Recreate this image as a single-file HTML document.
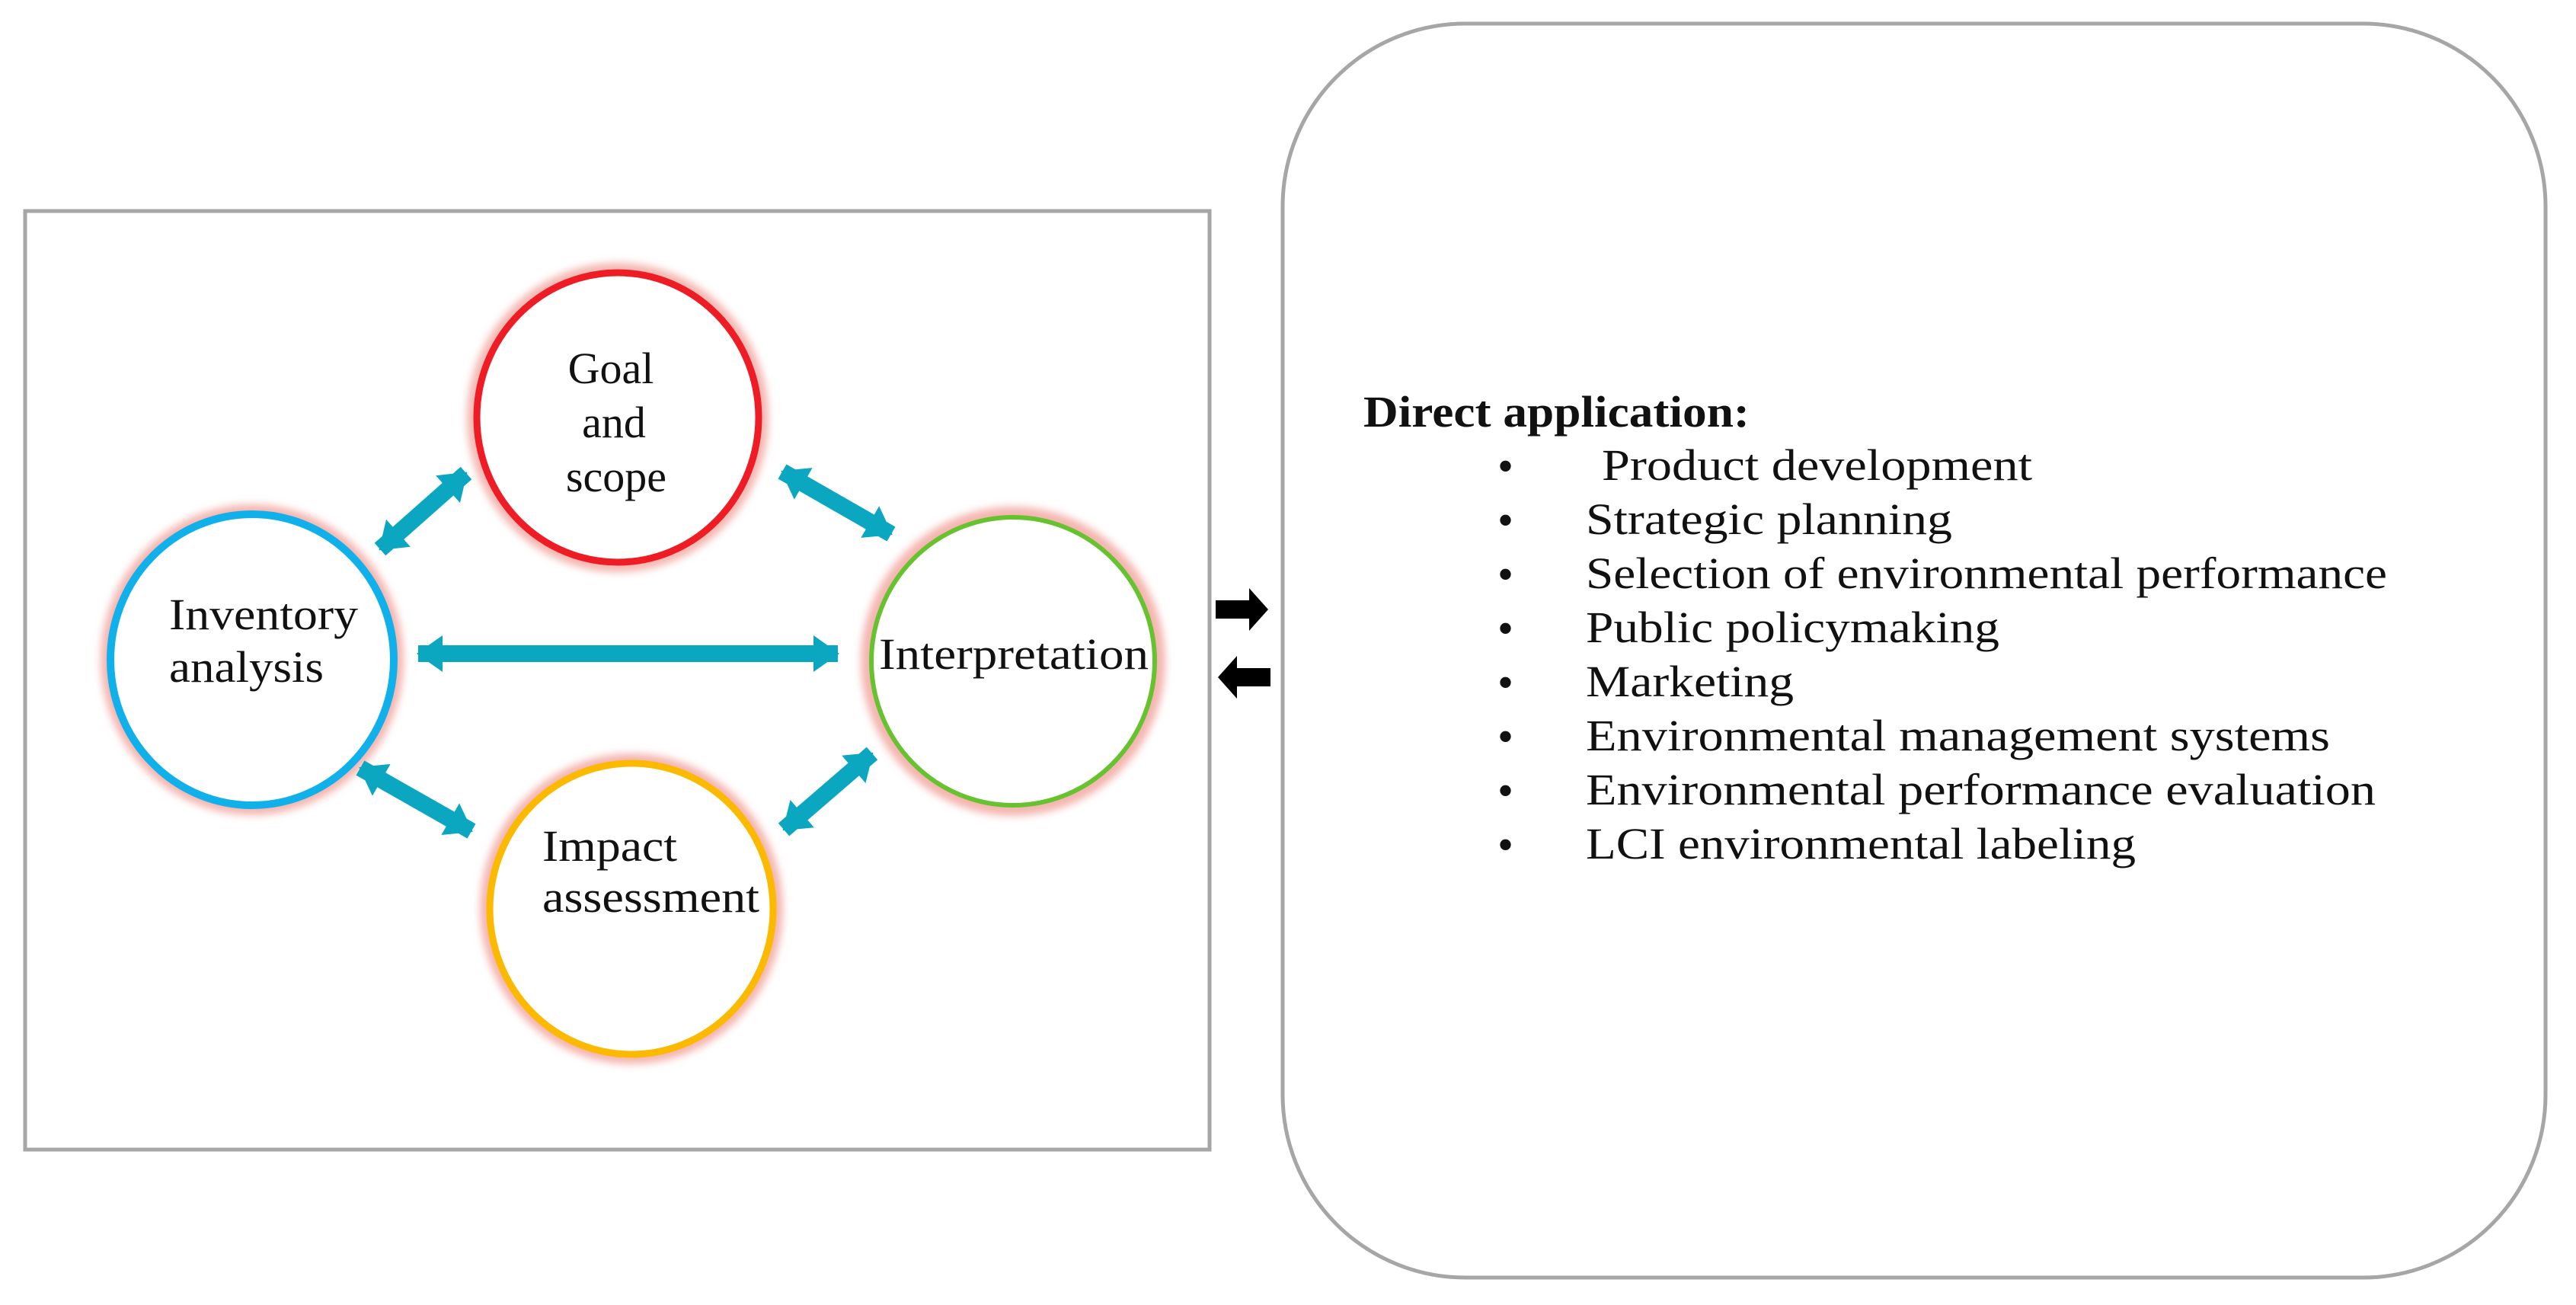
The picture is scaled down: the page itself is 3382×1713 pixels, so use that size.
<!DOCTYPE html>
<html><head><meta charset="utf-8"><style>
html,body{margin:0;padding:0;background:#fff;}
svg{display:block}
text{font-family:"Liberation Serif",serif;fill:#111}
</style></head><body>
<svg width="3382" height="1713" viewBox="0 0 3382 1713" xmlns="http://www.w3.org/2000/svg">
<defs>
<marker id="ah" markerUnits="userSpaceOnUse" markerWidth="40" markerHeight="48" refX="32" refY="24" orient="auto-start-reverse">
<path d="M0,0 L34,24 L0,48 Z" fill="#0ba7c1"/>
</marker>
<filter id="glow" x="-20%" y="-20%" width="140%" height="140%"><feGaussianBlur stdDeviation="5"/></filter>
</defs>
<rect x="33" y="277" width="1555" height="1232" fill="none" stroke="#a6a6a6" stroke-width="5"/>
<rect x="1684" y="31" width="1658" height="1646" rx="240" ry="240" fill="none" stroke="#a6a6a6" stroke-width="5"/>

<g fill="none" stroke="#f4b6b0" stroke-width="22" filter="url(#glow)">
<ellipse cx="811" cy="548" rx="187" ry="192"/>
<ellipse cx="331" cy="866" rx="188" ry="193"/>
<ellipse cx="1330" cy="868" rx="189" ry="192"/>
<ellipse cx="829" cy="1193" rx="188" ry="193"/>
</g>
<ellipse cx="811" cy="548" rx="185" ry="190" fill="#fff" stroke="#ee1c24" stroke-width="9"/>
<ellipse cx="331" cy="866" rx="186" ry="191" fill="#fff" stroke="#10b0ea" stroke-width="10"/>
<ellipse cx="1330" cy="868" rx="186" ry="189" fill="#fff" stroke="#66c22e" stroke-width="6"/>
<ellipse cx="829" cy="1193" rx="186" ry="191" fill="#fff" stroke="#fbb900" stroke-width="9"/>

<g stroke="#0ba7c1" stroke-width="22" marker-start="url(#ah)" marker-end="url(#ah)">
<line x1="549" y1="858" x2="1100" y2="858"/>
<line x1="499" y1="721" x2="612" y2="621"/>
<line x1="1027" y1="619" x2="1170" y2="701"/>
<line x1="473" y1="1008" x2="619" y2="1091"/>
<line x1="1029" y1="1089" x2="1145" y2="989"/>
</g>

<g fill="#000">
<polygon points="1596,788 1640,788 1640,772 1665,800 1640,828 1640,812 1596,812"/>
<polygon points="1668,877 1624,877 1624,861 1599,889 1624,917 1624,901 1668,901"/>
</g>

<g font-size="58">
<text x="802" y="503" text-anchor="middle">Goal</text>
<text x="806" y="574" text-anchor="middle">and</text>
<text x="809" y="645" text-anchor="middle">scope</text>
<text x="222" y="826" textLength="248" lengthAdjust="spacingAndGlyphs">Inventory</text>
<text x="222" y="895" textLength="203" lengthAdjust="spacingAndGlyphs">analysis</text>
<text x="1154" y="878" textLength="354" lengthAdjust="spacingAndGlyphs">Interpretation</text>
<text x="712" y="1130" textLength="177" lengthAdjust="spacingAndGlyphs">Impact</text>
<text x="712" y="1197" textLength="285" lengthAdjust="spacingAndGlyphs">assessment</text>
</g>

<g font-size="58">
<text x="1790" y="560" font-weight="bold" textLength="507" lengthAdjust="spacingAndGlyphs">Direct application:</text>
<g font-size="60"><text x="1966" y="632">•</text><text x="1966" y="703">•</text><text x="1966" y="774">•</text><text x="1966" y="845">•</text><text x="1966" y="916">•</text><text x="1966" y="987">•</text><text x="1966" y="1058">•</text><text x="1966" y="1129">•</text></g>
<text x="2103" y="630" textLength="565" lengthAdjust="spacingAndGlyphs">Product development</text>
<text x="2082" y="701" textLength="481" lengthAdjust="spacingAndGlyphs">Strategic planning</text>
<text x="2082" y="772" textLength="1052" lengthAdjust="spacingAndGlyphs">Selection of environmental performance</text>
<text x="2082" y="843" textLength="543" lengthAdjust="spacingAndGlyphs">Public policymaking</text>
<text x="2082" y="914" textLength="273" lengthAdjust="spacingAndGlyphs">Marketing</text>
<text x="2082" y="985" textLength="977" lengthAdjust="spacingAndGlyphs">Environmental management systems</text>
<text x="2082" y="1056" textLength="1037" lengthAdjust="spacingAndGlyphs">Environmental performance evaluation</text>
<text x="2082" y="1127" textLength="722" lengthAdjust="spacingAndGlyphs">LCI environmental labeling</text>
</g>
</svg>
</body></html>
